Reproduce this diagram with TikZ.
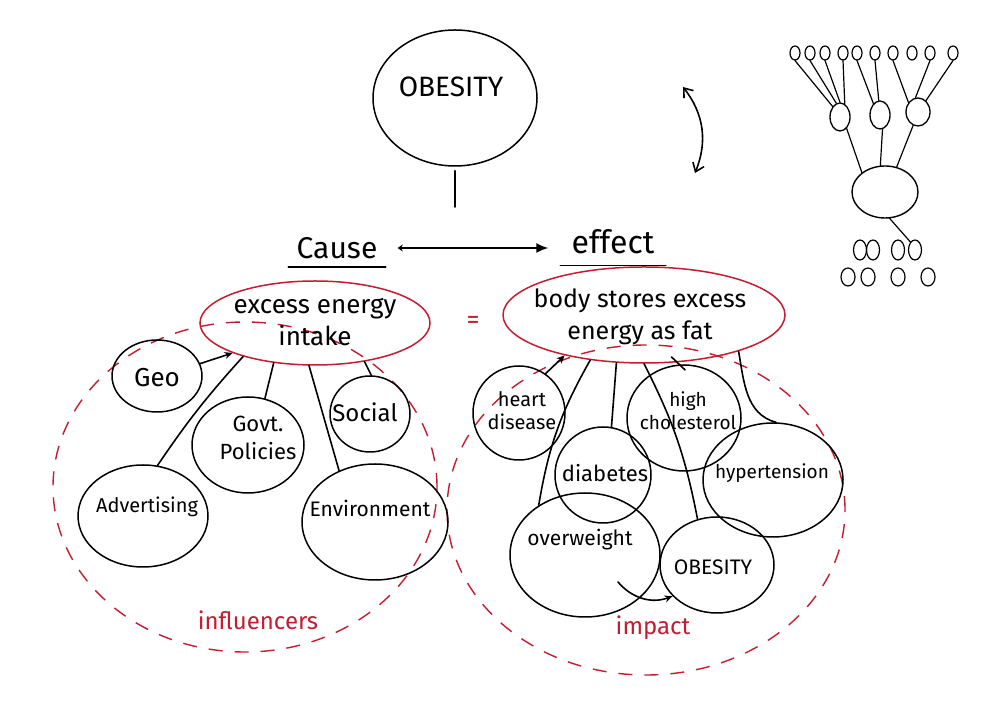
\documentclass[tikz,border=0pt]{standalone}
\usepackage{fontspec}
\setmainfont{Fira Sans}
\usetikzlibrary{shapes.geometric,arrows.meta}
\definecolor{inkred}{RGB}{196,28,48}
\begin{document}
\begin{tikzpicture}[x=1pt,y=1pt,
  ink/.style={draw=black, line width=1.6pt, line cap=round},
  thinink/.style={draw=black, line width=1.2pt, line cap=round},
  bubble/.style={ellipse, draw=black, line width=1.5pt, inner sep=0pt},
  sz/.style 2 args={minimum width=#1pt, minimum height=#2pt},
  fs/.style 2 args={font=\fontsize{#1}{#2}\selectfont},
  lbl/.style={inner sep=0pt, align=center},
  zone/.style={ellipse, draw=inkred, line width=1.4pt, dash pattern=on 14pt off 12pt, inner sep=0pt},
  redlbl/.style={lbl, text=inkred},
  tip/.style={-{Stealth[length=8pt,width=7pt]}}
]
\fill[white] (0,0) rectangle (1000,703);
\useasboundingbox (0,0) rectangle (1000,703);

% dashed zones
\node[zone, sz={384}{330}] (infz) at (245,216) {};
\node[zone, sz={398}{330}] (impz) at (646,193) {};

% top obesity
\node[bubble, sz={164}{136}] (topob) at (455,605) {};
\node[lbl, fs={28}{32}] (topobT) at (451,616) {OBESITY};
\coordinate (stem) at (455,496);
\draw[ink, shorten <=4pt] (topob.south) -- (stem);

% cause / effect
\node[lbl, fs={30}{34}, minimum width=97pt] (cause) at (337,455) {Cause};
\draw[ink] ([yshift=-8pt]cause.south west) -- ([yshift=-8pt]cause.south east);
\node[lbl, fs={32}{36}, minimum width=105pt] (effect) at (613,461) {effect};
\draw[ink] ([yshift=-11pt]effect.south west) -- ([yshift=-11pt]effect.south east);
\draw[ink, {Stealth[length=5pt,width=7pt]}-{Latex[length=12pt,width=10pt]}, shorten <=12pt, shorten >=12pt]
  (cause.east) -- (cause.east -| effect.west);

% double arrow
\coordinate (da1) at (683,616);
\coordinate (da2) at (695,530);
\draw[ink, {Straight Barb[length=8pt,width=12pt]}-{Straight Barb[length=8pt,width=12pt]}] (da1) to[bend left=30] (da2);

% tree sketch (top right)
\foreach \i/\x in {1/795,2/810,3/825,4/843,5/857,6/875,7/893,8/912,9/930,10/953}
  \node[bubble, line width=1.2pt, sz={10}{14}] (t\i) at (\x,650) {};
\node[bubble, line width=1.3pt, sz={20}{28}] (m1) at (840,586) {};
\node[bubble, line width=1.3pt, sz={20}{28}] (m2) at (880,588) {};
\node[bubble, line width=1.3pt, sz={24}{28}] (m3) at (918,591) {};
\node[bubble, line width=1.4pt, sz={66}{52}] (big) at (885,511) {};
\foreach \i/\x in {1/860,2/873,3/898,4/915}
  \node[bubble, line width=1.2pt, sz={13}{20}] (b\i) at (\x,453) {};
\foreach \i/\x in {1/848,2/868,3/898,4/928}
  \node[bubble, line width=1.2pt, sz={14}{18}] (c\i) at (\x,426) {};
\draw[thinink] (t1.south) -- (m1.125);
\draw[thinink] (t2.south) -- (m1.105);
\draw[thinink] (t3.south) -- (m1.90);
\draw[thinink] (t4.south) -- (m1.70);
\draw[thinink] (t5.south) -- (m2.120);
\draw[thinink] (t6.south) -- (m2.95);
\draw[thinink] (t7.south) -- (m3.135);
\draw[thinink] (t9.south) -- (m3.100);
\draw[thinink] (t10.south) -- (m3.55);
\draw[thinink] (m1.-60) -- (big.140);
\draw[thinink] (m2.-80) -- (big.100);
\draw[thinink] (m3.-110) -- (big.65);
\draw[thinink] (big.-80) -- (b4.120);

% central red ellipses
\node[bubble, draw=inkred, sz={230}{84}] (excess) at (315,380) {};
\node[lbl, fs={26}{32}] (excessT) at (315,381) {excess energy\\intake};
\node[bubble, draw=inkred, sz={282}{96}] (body) at (644,388) {};
\node[lbl, fs={25}{32}] (bodyT) at (640,386) {body stores excess\\energy as fat};
\node[redlbl, fs={26}{30}] (eq) at (473,381) {=};

% influencers
\node[bubble, sz={90}{72}] (geo) at (157,327) {};
\node[lbl, fs={26}{30}] (geoT) at (157,325) {Geo};
\node[bubble, sz={112}{96}] (govt) at (248,258) {};
\node[lbl, fs={22}{28}] (govtT) at (258,265) {Govt.\\Policies};
\node[bubble, sz={80}{76}] (social) at (370,289) {};
\node[lbl, fs={24}{28}] (socialT) at (365,291) {Social};
\node[bubble, sz={130}{102}] (adv) at (143,187) {};
\node[lbl, fs={20}{24}] (advT) at (147,196) {Advertising};
\node[bubble, sz={146}{116}] (env) at (375,181) {};
\node[lbl, fs={21}{24}] (envT) at (370,195) {Environment};
\node[redlbl, fs={24}{28}] (infl) at (258,83) {influencers};

\draw[ink, tip] (geo.16) -- (excess.200);
\draw[ink] (adv.74) to[bend left=4] (excess.205);
\draw[ink] (govt.70) -- (excess.224);
\draw[ink] (env.125) -- (excess.262);
\draw[ink] (social.88) -- (excess.322);

% impact
\node[bubble, sz={92}{94}] (heart) at (519,290) {};
\node[lbl, fs={20}{23}] (heartT) at (522,292) {heart\\disease};
\node[bubble, sz={114}{106}] (chol) at (684,285) {};
\node[lbl, fs={19}{23}] (cholT) at (688,292) {high\\cholesterol};
\node[bubble, sz={96}{96}] (diab) at (603,228) {};
\node[lbl, fs={22}{26}] (diabT) at (605,230) {diabetes};
\node[bubble, sz={140}{114}] (hyp) at (773,223) {};
\node[lbl, fs={19}{23}] (hypT) at (772,230) {hypertension};
\node[bubble, sz={150}{124}] (over) at (585,148) {};
\node[lbl, fs={21}{25}] (overT) at (580,163) {overweight};
\node[bubble, sz={114}{96}] (obes) at (717,138) {};
\node[lbl, fs={21}{25}] (obesT) at (713,136) {OBESITY};
\node[redlbl, fs={24}{28}] (imp) at (653,75) {impact};

\draw[ink, tip] (heart.56) -- (body.207);
\draw[ink] (body.220) to[bend right=10] (over.133);
\draw[ink] (body.240) -- (diab.80);
\draw[ink] (body.270) to[bend left=8] (obes.113);
\draw[ink, shorten <=-8pt, shorten >=-8pt] (body.305) -- (chol.95);
\draw[ink] (body.339) to[out=-80, in=165] (hyp.87);
\coordinate (owstart) at (618,121);
\draw[ink, tip] (owstart) to[bend right=35] (obes.215);
\end{tikzpicture}
\end{document}
